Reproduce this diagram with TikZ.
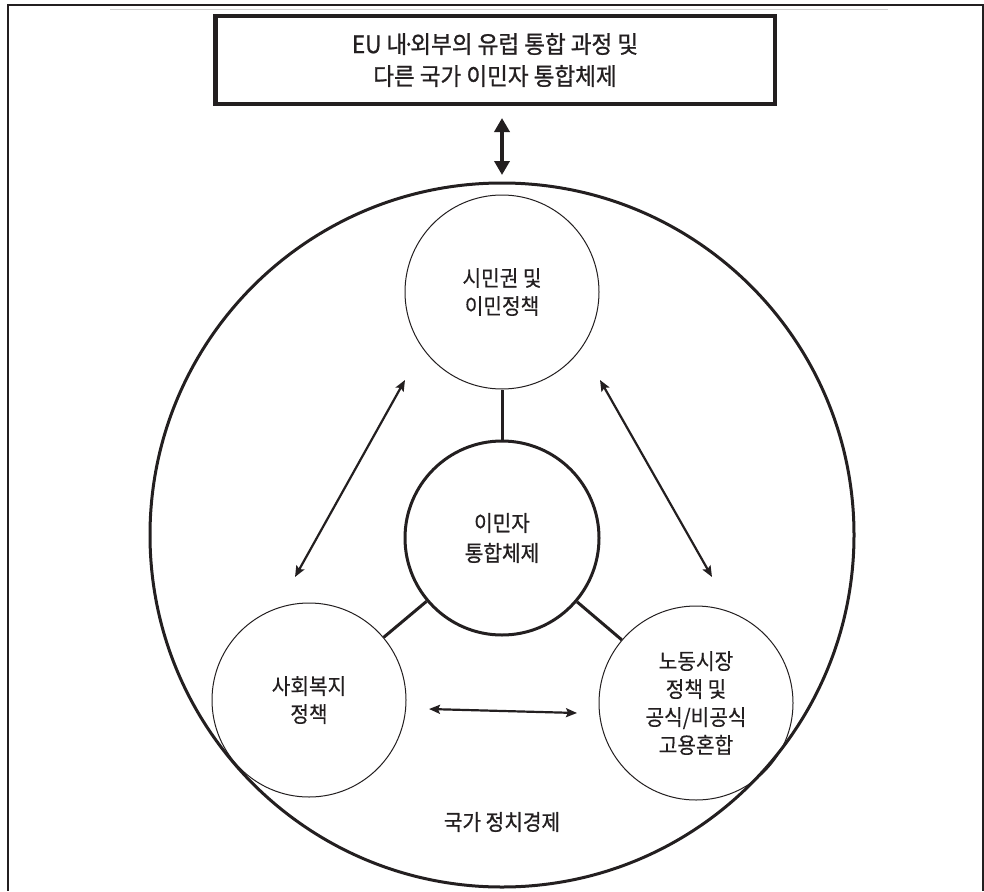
\documentclass[tikz,border=0pt]{standalone}
\usepackage{fontspec}
\setmainfont{Noto Sans CJK KR}
\usetikzlibrary{arrows.meta}
\definecolor{ink}{HTML}{231F20}
\definecolor{rule}{HTML}{D0D0D0}
\begin{document}
\begin{tikzpicture}[x=1pt,y=-1pt,
  txt/.style={text=ink,align=center,font=\fontsize{22}{28}\selectfont\addfontfeatures{FakeStretch=0.92,FakeBold=0.3}},
  strongtxt/.style={text=ink,align=center,font=\fontsize{22}{30}\selectfont\addfontfeatures{FakeStretch=0.92,FakeBold=0.9}},
  topbox/.style={draw=ink,line width=4.5pt,minimum width=559.5pt,minimum height=87.5pt,inner sep=0pt,text=ink,align=center,font=\fontsize{24}{32}\selectfont\addfontfeatures{FakeStretch=0.94,FakeBold=0.9}},
  policy/.style={circle,draw=ink,line width=1pt,minimum size=194pt,inner sep=0pt,txt},
  core/.style={circle,draw=ink,line width=3pt,minimum size=194pt,inner sep=0pt,strongtxt},
  nation/.style={circle,draw=ink,line width=3pt,minimum size=704pt,inner sep=0pt},
  link/.style={draw=ink,line width=3pt},
  bigarrow/.style={draw=ink,line width=4.5pt,{Triangle[width=15pt,length=14pt]}-{Triangle[width=15pt,length=14pt]}},
  thinarrow/.style={draw=ink,line width=2.2pt,{Stealth[width=9pt,length=11pt,inset=2pt]}-{Stealth[width=9pt,length=11pt,inset=2pt]}}
]
\useasboundingbox (0,0) rectangle (984,891);
% frame
\coordinate (fTL) at (7,5);
\coordinate (fTR) at (984,5);
\coordinate (fLT) at (8,5);
\coordinate (fBL) at (8,891);
\coordinate (gL) at (110,9.5);
\coordinate (gR) at (888,9.5);
\coordinate (fRT) at (983,5);
\coordinate (fRB) at (983,891);
\draw[ink,line width=2pt] (fTL) -- (fTR);
\draw[ink,line width=2pt] (fLT) -- (fBL);
\draw[rule,line width=1pt] (gL) -- (gR);
\draw[ink,line width=1.2pt] (fRT) -- (fRB);

% top box
\node[topbox] (box) at (495,60) {EU 내\kern-0.2em·\kern-0.2em외부의 유럽 통합 과정 및\\다른 국가 이민자 통합체제};

% big circle
\node[nation] (nat) at (502,535) {};
\node[strongtxt] (natlabel) at (502,822) {국가 정치경제};

% arrow between box and big circle
\coordinate (a1) at (502,118);
\coordinate (a2) at (502,175);
\draw[bigarrow] (a1) -- (a2);

% circles
\node[policy] (cit) at (502,292) {시민권 및\\이민정책};
\node[core] (core) at (502,538) {이민자\\통합체제};
\node[policy] (wel) at (309,700) {사회복지\\정책};
\node[policy] (lab) at (696,703) {노동시장\\정책 및\\공식/비공식\\고용혼합};

% links
\draw[link] (core) -- (cit);
\draw[link] (core) -- (wel);
\draw[link] (core) -- (lab);

% thin double arrows
\coordinate (l1) at (295,577);
\coordinate (l2) at (405,380);
\coordinate (r1) at (600,380);
\coordinate (r2) at (712,577);
\coordinate (b1) at (429,709);
\coordinate (b2) at (577,713);
\draw[thinarrow] (l1) -- (l2);
\draw[thinarrow] (r1) -- (r2);
\draw[thinarrow] (b1) -- (b2);
\end{tikzpicture}
\end{document}
